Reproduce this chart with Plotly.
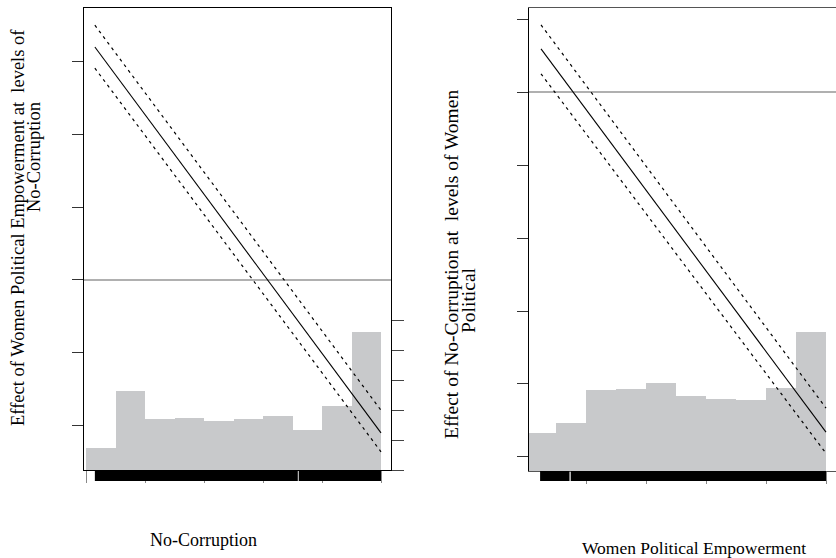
import plotly.graph_objects as go

W, H = 836, 558

# ---------------- data ----------------
# Left panel: effect of Women Political Empowerment at levels of No-Corruption
left_bin_centers = [0.05, 0.15, 0.25, 0.35, 0.45, 0.55, 0.65, 0.75, 0.85, 0.95]
left_counts = [7.4, 26.3, 17.0, 17.4, 16.4, 17.0, 18.1, 13.3, 21.4, 46.0]
left_line_x = [0.03, 1.0]
left_est = [3.20, -2.10]
left_upper = [3.50, -1.79]
left_lower = [2.91, -2.36]
left_rug = [(0.030, 0.718), (0.721, 1.0)]
left_xticks = [0.0, 0.2, 0.4, 0.6, 0.8, 1.0]
left_yticks = [-2, -1, 0, 1, 2, 3]
left_cticks = [0, 10, 20, 30, 40, 50]

# Right panel: effect of No-Corruption at levels of Women Political Empowerment
right_bin_centers = [0.05, 0.15, 0.25, 0.35, 0.45, 0.55, 0.65, 0.75, 0.85, 0.95]
right_counts = [12.7, 16.0, 27.0, 27.3, 29.3, 25.0, 24.0, 23.7, 27.7, 46.3]
right_line_x = [0.05, 1.0]
right_est = [0.59, -4.66]
right_upper = [0.92, -4.33]
right_lower = [0.25, -4.95]
right_rug = [(0.047, 0.145), (0.149, 1.0)]
right_xticks = [0.0, 0.2, 0.4, 0.6, 0.8, 1.0]
right_yticks = [-5, -4, -3, -2, -1, 0, 1]

HIST = "#c8c9cb"
SERIF = "Liberation Serif, Times New Roman, serif"

def px_x(p):
    return p / W

def px_y(p):
    return 1 - p / H

fig = go.Figure()

# histograms (base axes)
fig.add_trace(go.Bar(x=left_bin_centers, y=left_counts, width=0.1,
                     marker=dict(color=HIST, line=dict(width=0)),
                     xaxis="x", yaxis="y", showlegend=False))
fig.add_trace(go.Bar(x=right_bin_centers, y=right_counts, width=0.1,
                     marker=dict(color=HIST, line=dict(width=0)),
                     xaxis="x2", yaxis="y3", showlegend=False))

# marginal-effect lines (overlay axes)
for xs, est, up, lo, xa, ya in [
    (left_line_x, left_est, left_upper, left_lower, "x", "y2"),
    (right_line_x, right_est, right_upper, right_lower, "x2", "y4"),
]:
    fig.add_trace(go.Scatter(x=xs, y=est, mode="lines",
                             line=dict(color="black", width=1.1),
                             xaxis=xa, yaxis=ya, showlegend=False))
    for band in (up, lo):
        fig.add_trace(go.Scatter(x=xs, y=band, mode="lines",
                                 line=dict(color="black", width=1.2, dash="3px,4px"),
                                 xaxis=xa, yaxis=ya, showlegend=False))

# rugs below the plotting areas
shapes = []
for segs, xr, top, bot in [(left_rug, "x", 470, 481), (right_rug, "x2", 471, 481)]:
    for a, b in segs:
        shapes.append(dict(type="rect", xref=xr, yref="paper",
                           x0=a, x1=b, y0=px_y(bot), y1=px_y(top),
                           fillcolor="black", line=dict(width=0), layer="above"))

axis_common = dict(showgrid=False, showticklabels=False, ticks="outside")

fig.update_layout(
    width=W, height=H,
    margin=dict(l=0, r=0, t=0, b=0),
    paper_bgcolor="white", plot_bgcolor="white",
    bargap=0,
    shapes=shapes,
    xaxis=dict(domain=[px_x(84), px_x(391)], range=[-0.0068, 1.0339],
               tickvals=left_xticks, ticklen=12, tickcolor="#888",
               showline=True, linecolor="black", linewidth=1.2, mirror=True,
               zeroline=False, anchor="y", **axis_common),
    yaxis=dict(domain=[px_y(470), px_y(8)], range=[0, 154],
               side="right", anchor="x",
               tickvals=left_cticks, ticklen=12, tickcolor="#444",
               showline=True, linecolor="black", linewidth=1.2,
               zeroline=False, **axis_common),
    yaxis2=dict(overlaying="y", side="left", anchor="x",
                range=[-2.61, 3.736],
                tickvals=left_yticks, ticklen=11, tickcolor="#333",
                showline=True, linecolor="black", linewidth=1.2,
                zeroline=True, zerolinecolor="#b0b0b0", zerolinewidth=1.5,
                **axis_common),
    xaxis2=dict(domain=[px_x(529), 1.0], range=[0.01, 1.0333],
                tickvals=right_xticks, ticklen=12, tickcolor="#888",
                showline=True, linecolor="#555", linewidth=1.2, mirror=True,
                zeroline=False, anchor="y3", **axis_common),
    yaxis3=dict(domain=[px_y(471), px_y(8)], range=[0, 154.3],
                side="right", anchor="x2", visible=False),
    yaxis4=dict(overlaying="y3", side="left", anchor="x2",
                range=[-5.192, 1.151],
                tickvals=right_yticks, ticklen=11, tickcolor="#333",
                showline=True, linecolor="black", linewidth=1.2,
                zeroline=True, zerolinecolor="#b0b0b0", zerolinewidth=1.5,
                **axis_common),
)

ann = [
    dict(text="Effect of Women Political Empowerment at  levels of", x=18, y=228, size=18.5, angle=-90),
    dict(text="No-Corruption", x=34, y=157, size=18.5, angle=-90),
    dict(text="Effect of No-Corruption at  levels of Women", x=451, y=265, size=19.5, angle=-90),
    dict(text="Political", x=468, y=300, size=19.5, angle=-90),
    dict(text="No-Corruption", x=203, y=540, size=18, angle=0),
    dict(text="Women Political Empowerment", x=694, y=548, size=17.5, angle=0),
]
for a in ann:
    fig.add_annotation(text=a["text"], xref="paper", yref="paper",
                       x=px_x(a["x"]), y=px_y(a["y"]),
                       xanchor="center", yanchor="middle",
                       textangle=a["angle"], showarrow=False,
                       font=dict(family=SERIF, size=a["size"], color="black"))

fig.write_html("out.html",
               config={"displayModeBar": False},
               post_script="document.body.style.margin='0';document.body.style.padding='0';")
